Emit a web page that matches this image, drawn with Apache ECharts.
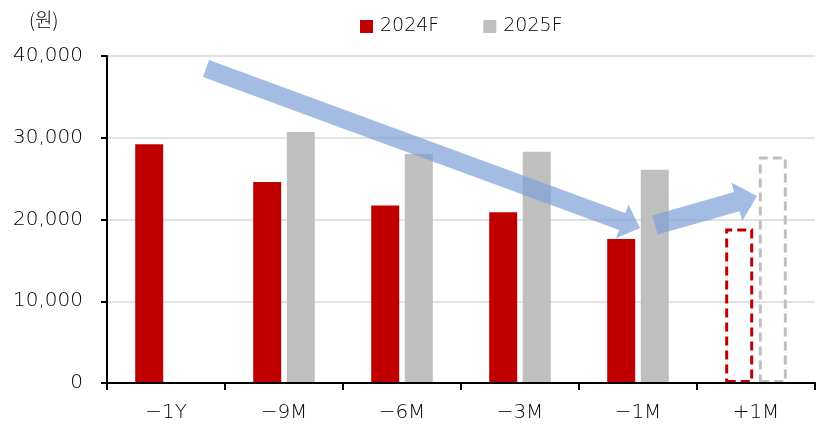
<!DOCTYPE html>
<html><head><meta charset="utf-8">
<script src="https://cdn.jsdelivr.net/npm/echarts@6/dist/echarts.min.js"></script>
<style>html,body{margin:0;padding:0;background:#fff}#c{width:821px;height:430px}</style>
</head><body><div id="c"></div>
<script>
const categories = ['−1Y', '−9M', '−6M', '−3M', '−1M', '+1M'];
const series2024 = [29200, 24600, 21700, 20900, 17600, 18900];
const series2025 = [null, 30700, 28000, 28300, 26100, 27700];
const yTicks = [0, 10000, 20000, 30000, 40000];
const unitLabel = '(원)';
const seriesNames = ['2024F', '2025F'];

const FONT = '"DejaVu Sans"';
const FW = 200;
const RED = '#C00000', GRAY = '#BFBFBF';
const chart = echarts.init(document.getElementById('c'), null, {renderer: 'canvas'});

function dataFor(vals, color) {
  return vals.map((v, i) => {
    if (i === vals.length - 1 && v != null) {
      return {value: v, itemStyle: {color: 'rgba(0,0,0,0)', borderColor: color, borderWidth: 3, borderType: [9, 5]}};
    }
    return v;
  });
}

const grid = {left: 107, right: 6, top: 56, bottom: 47};
const arrowColor = 'rgba(125,160,215,0.7)';

function arrow(x1, y1, x2, y2, shaft, headW, headL) {
  const dx = x2 - x1, dy = y2 - y1, L = Math.hypot(dx, dy);
  const ux = dx / L, uy = dy / L, nx = -uy, ny = ux;
  const bx = x2 - ux * headL, by = y2 - uy * headL;
  const pts = [
    [x1 + nx * shaft / 2, y1 + ny * shaft / 2],
    [bx + nx * shaft / 2, by + ny * shaft / 2],
    [bx + nx * headW / 2, by + ny * headW / 2],
    [x2, y2],
    [bx - nx * headW / 2, by - ny * headW / 2],
    [bx - nx * shaft / 2, by - ny * shaft / 2],
    [x1 - nx * shaft / 2, y1 - ny * shaft / 2]
  ];
  return {type: 'polygon', shape: {points: pts}, style: {fill: arrowColor}, z: 100};
}

chart.setOption({
  animation: false,
  backgroundColor: '#fff',
  grid: grid,
  legend: {
    data: seriesNames, top: 12, left: 355, itemWidth: 13, itemHeight: 13, itemGap: 44,
    icon: 'rect',
    textStyle: {fontFamily: FONT, fontWeight: FW, fontSize: 19, color: '#000', padding: [0, 0, 0, 2]}
  },
  graphic: [
    {type: 'text', left: 29, top: 10, z: 100, style: {text: unitLabel, font: '300 19px "Noto Sans CJK KR"', fill: '#000'}},
    arrow(206, 68.5, 640, 228, 18, 36, 19),
    arrow(655, 225, 757, 196, 20, 40, 21)
  ],
  xAxis: {
    type: 'category', data: categories, z: 5,
    axisLine: {lineStyle: {color: '#000', width: 2}},
    axisTick: {show: true, length: 7, lineStyle: {color: '#000', width: 2}},
    axisLabel: {fontFamily: FONT, fontWeight: FW, fontSize: 20, color: '#000', margin: 20}
  },
  yAxis: {
    type: 'value', min: yTicks[0], max: yTicks[yTicks.length - 1], interval: yTicks[1] - yTicks[0],
    axisLine: {show: true, lineStyle: {color: '#000', width: 2}},
    axisTick: {show: true, length: 6, lineStyle: {color: '#000', width: 2}},
    splitLine: {lineStyle: {color: '#D9D9D9', width: 1.5}},
    axisLabel: {fontFamily: FONT, fontWeight: FW, fontSize: 20, color: '#000', margin: 24,
      formatter: v => v.toLocaleString('en-US')}
  },
  series: [
    {name: seriesNames[0], type: 'bar', data: dataFor(series2024, RED), barWidth: 28, barGap: '20%', itemStyle: {color: RED}},
    {name: seriesNames[1], type: 'bar', data: dataFor(series2025, GRAY), barWidth: 28, barGap: '20%', itemStyle: {color: GRAY}}
  ]
});
</script></body></html>
